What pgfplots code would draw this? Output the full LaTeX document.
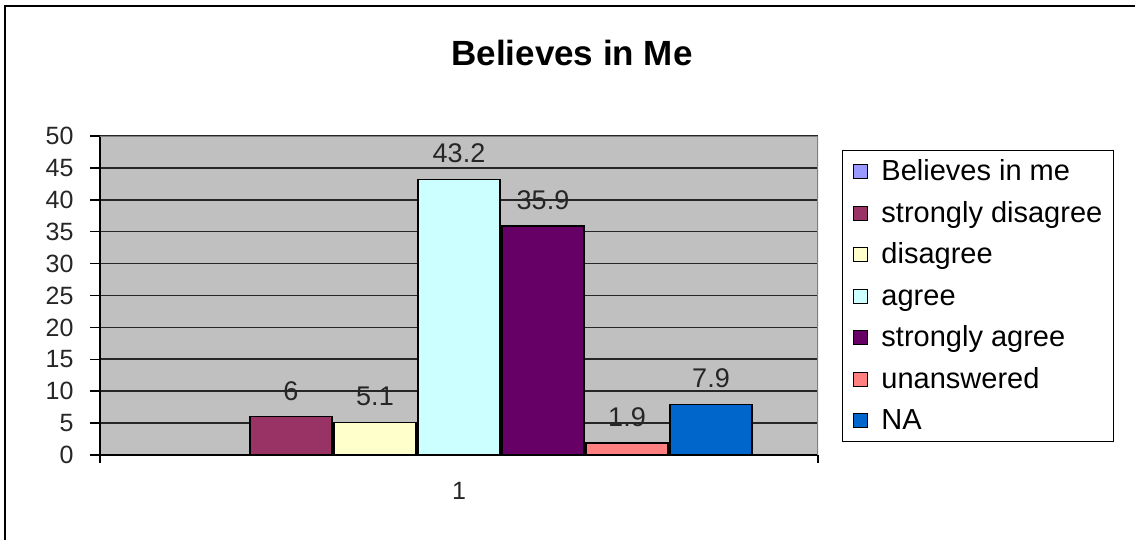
\documentclass[border=0pt]{standalone}
\usepackage{fontspec}
\setmainfont{Liberation Sans}
\usepackage{pgfplots}
\pgfplotsset{compat=1.18}

% series colours
\definecolor{plotgray}{HTML}{C0C0C0}
\definecolor{framegray}{HTML}{808080}
\definecolor{cBelieves}{HTML}{9999FF}
\definecolor{cSDis}{HTML}{993366}
\definecolor{cDis}{HTML}{FFFFCC}
\definecolor{cAgr}{HTML}{CCFFFF}
\definecolor{cSAgr}{HTML}{660066}
\definecolor{cUnans}{HTML}{FF8080}
\definecolor{cNA}{HTML}{0066CC}

\begin{document}
\begin{tikzpicture}[x=1pt,y=1pt]
\path[use as bounding box] (0,0) rectangle (1135,540);
\fill[white] (0,0) rectangle (1135,540);
% chart frame
\draw[line width=2pt] (5,0) -- (5,534) -- (1135,534);
% title
\node[font=\fontsize{35}{40}\selectfont\bfseries] at (572,487) {Believes in Me};

\begin{axis}[
  at={(100pt,85pt)}, anchor=south west,
  scale only axis, width=718pt, height=319pt,
  ybar=2pt, bar width=82pt,
  xmin=0.5, xmax=1.5, ymin=0, ymax=50,
  axis lines=left,
  axis line style={-, line width=1.5pt, black},
  axis background/.style={fill=plotgray},
  /pgf/number format/assume math mode=true,
  ytick={0,5,...,50},
  xtick={1}, xticklabels={1},
  tick align=outside,
  major tick length=10pt,
  y tick style={line width=1.5pt, black},
  x tick style={draw=none},
  extra x ticks={0.5,1.5},
  extra x tick labels={},
  extra x tick style={x tick style={draw=black, line width=1.5pt}, major tick length=8pt},
  ymajorgrids,
  major grid style={line width=1.6pt, black!85},
  tick label style={font=\fontsize{25}{28}\selectfont, text=black!85},
  yticklabel style={xshift=-13pt},
  xticklabel style={yshift=-14pt},
  every node near coord/.append style={font=\fontsize{27}{29}\selectfont, text=black!85, anchor=center, yshift=26pt},
  every axis plot/.append style={draw=black, line width=1.3pt},
  legend image code/.code={\draw[#1, draw=black, line width=1pt] (0pt,-7pt) rectangle (14pt,7pt);},
  legend style={
    at={(axis description cs:1.0334,0.956)}, anchor=north west,
    draw=black, line width=1pt,
    font=\fontsize{29}{31}\selectfont,
    row sep=15.5pt, column sep=13pt,
    inner xsep=11pt, inner ysep=8pt,
    nodes={text height=20pt, text depth=2pt, inner ysep=2pt, inner xsep=0pt},
  },
  legend cell align=left,
]
\addplot[fill=cBelieves] coordinates {(1,0)};
\addplot[fill=cSDis, nodes near coords] coordinates {(1,6)};
\addplot[fill=cDis, nodes near coords] coordinates {(1,5.1)};
\addplot[fill=cAgr, nodes near coords] coordinates {(1,43.2)};
\addplot[fill=cSAgr, nodes near coords] coordinates {(1,35.9)};
\addplot[fill=cUnans, nodes near coords] coordinates {(1,1.9)};
\addplot[fill=cNA, nodes near coords] coordinates {(1,7.9)};
\legend{Believes in me, strongly disagree, disagree, agree, strongly agree, unanswered, NA}
% plot-area border on the top and right
\draw[framegray, line width=1.6pt] (rel axis cs:0,1) -- (rel axis cs:1,1) -- (rel axis cs:1,0);
\end{axis}
\end{tikzpicture}
\end{document}
